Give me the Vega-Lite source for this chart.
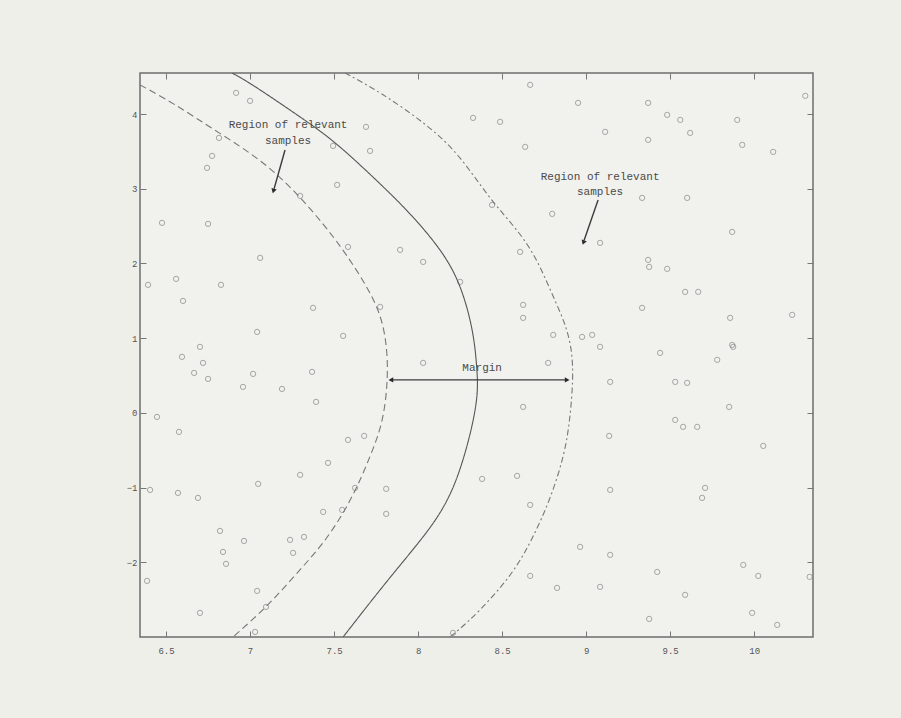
{
  "$schema": "https://vega.github.io/schema/vega-lite/v6.json",
  "width": 673,
  "height": 564,
  "autosize": {"type": "none"},
  "padding": {"left": 140, "top": 73, "right": 88, "bottom": 81},
  "background": "#efefea",
  "config": {
    "view": {"stroke": "#6e6e6e", "strokeWidth": 1.5, "fill": "#f1f1ed"},
    "axis": {"grid": false, "domain": false, "tickColor": "#777777", "tickSize": -6, "tickWidth": 1,
             "labelFont": "Liberation Mono", "labelFontSize": 9, "labelColor": "#555555", "title": null}
  },
  "datasets": {
    "pts": [
      {"x":6.917,"y":4.284},{"x":7.0,"y":4.177},{"x":6.815,"y":3.681},{"x":6.774,"y":3.44},{"x":6.744,"y":3.28},
      {"x":6.476,"y":2.544},{"x":6.75,"y":2.53},{"x":7.06,"y":2.075},{"x":6.393,"y":1.714},{"x":6.56,"y":1.794},
      {"x":6.601,"y":1.499},{"x":6.827,"y":1.714},{"x":7.375,"y":1.406},{"x":7.042,"y":1.084},{"x":7.554,"y":1.031},
      {"x":6.702,"y":0.884},{"x":7.298,"y":2.905},{"x":7.583,"y":2.222},{"x":7.518,"y":3.052},{"x":7.69,"y":3.829},
      {"x":7.494,"y":3.574},{"x":7.714,"y":3.507},{"x":7.893,"y":2.182},{"x":8.03,"y":2.021},{"x":7.774,"y":1.419},
      {"x":8.667,"y":4.391},{"x":8.952,"y":4.15},{"x":9.369,"y":4.15},{"x":9.482,"y":3.989},{"x":9.56,"y":3.922},
      {"x":9.899,"y":3.922},{"x":10.304,"y":4.244},{"x":8.327,"y":3.949},{"x":8.488,"y":3.896},{"x":9.113,"y":3.762},
      {"x":9.369,"y":3.655},{"x":9.619,"y":3.748},{"x":9.929,"y":3.588},{"x":10.113,"y":3.494},{"x":8.637,"y":3.561},
      {"x":8.44,"y":2.784},{"x":8.798,"y":2.664},{"x":9.333,"y":2.878},{"x":9.601,"y":2.878},{"x":9.083,"y":2.276},
      {"x":9.869,"y":2.423},{"x":8.607,"y":2.155},{"x":9.369,"y":2.048},{"x":9.375,"y":1.954},{"x":9.482,"y":1.928},
      {"x":9.589,"y":1.62},{"x":9.667,"y":1.62},{"x":8.25,"y":1.754},{"x":8.625,"y":1.446},{"x":8.625,"y":1.272},
      {"x":9.333,"y":1.406},{"x":9.857,"y":1.272},{"x":10.226,"y":1.312},{"x":8.804,"y":1.044},{"x":8.976,"y":1.017},
      {"x":9.036,"y":1.044},{"x":9.083,"y":0.884},{"x":9.869,"y":0.91},{"x":6.595,"y":0.75},{"x":6.72,"y":0.669},
      {"x":6.667,"y":0.535},{"x":6.75,"y":0.455},{"x":7.018,"y":0.522},{"x":6.958,"y":0.348},{"x":7.19,"y":0.321},
      {"x":7.369,"y":0.549},{"x":7.393,"y":0.147},{"x":8.03,"y":0.669},{"x":6.446,"y":-0.054},{"x":6.577,"y":-0.254},
      {"x":7.583,"y":-0.361},{"x":7.679,"y":-0.308},{"x":7.464,"y":-0.669},{"x":7.298,"y":-0.83},{"x":7.048,"y":-0.95},
      {"x":7.625,"y":-1.004},{"x":7.81,"y":-1.017},{"x":6.405,"y":-1.031},{"x":6.571,"y":-1.071},{"x":6.69,"y":-1.138},
      {"x":7.435,"y":-1.325},{"x":7.548,"y":-1.299},{"x":7.81,"y":-1.352},{"x":6.821,"y":-1.58},{"x":6.964,"y":-1.714},
      {"x":7.238,"y":-1.7},{"x":7.321,"y":-1.66},{"x":6.839,"y":-1.861},{"x":6.857,"y":-2.021},{"x":7.256,"y":-1.874},
      {"x":6.387,"y":-2.249},{"x":7.042,"y":-2.383},{"x":7.095,"y":-2.597},{"x":6.702,"y":-2.677},{"x":7.03,"y":-2.932},
      {"x":9.44,"y":0.803},{"x":9.78,"y":0.71},{"x":9.875,"y":0.884},{"x":8.774,"y":0.669},{"x":9.143,"y":0.415},
      {"x":9.53,"y":0.415},{"x":9.601,"y":0.402},{"x":8.625,"y":0.08},{"x":9.851,"y":0.08},{"x":9.53,"y":-0.094},
      {"x":9.577,"y":-0.187},{"x":9.661,"y":-0.187},{"x":9.137,"y":-0.308},{"x":10.054,"y":-0.442},{"x":8.381,"y":-0.884},
      {"x":8.589,"y":-0.843},{"x":9.143,"y":-1.031},{"x":9.708,"y":-1.004},{"x":9.69,"y":-1.138},{"x":8.667,"y":-1.232},
      {"x":8.964,"y":-1.794},{"x":9.143,"y":-1.901},{"x":9.423,"y":-2.129},{"x":9.935,"y":-2.035},{"x":10.024,"y":-2.182},
      {"x":8.667,"y":-2.182},{"x":8.827,"y":-2.343},{"x":9.083,"y":-2.329},{"x":9.589,"y":-2.436},{"x":9.375,"y":-2.758},
      {"x":9.988,"y":-2.677},{"x":10.137,"y":-2.838},{"x":10.33,"y":-2.195},{"x":8.208,"y":-2.945}
    ],
    "curves": [
      {"c":"boundary","o":1,"x":6.893,"y":4.55},{"c":"boundary","o":2,"x":7.0,"y":4.418},{"c":"boundary","o":3,"x":7.298,"y":3.963},
      {"c":"boundary","o":4,"x":7.494,"y":3.655},{"c":"boundary","o":5,"x":7.732,"y":3.159},{"c":"boundary","o":6,"x":7.935,"y":2.718},
      {"c":"boundary","o":7,"x":8.131,"y":2.209},{"c":"boundary","o":8,"x":8.25,"y":1.754},{"c":"boundary","o":9,"x":8.33,"y":1.1},
      {"c":"boundary","o":10,"x":8.35,"y":0.6},{"c":"boundary","o":11,"x":8.357,"y":0.308},{"c":"boundary","o":12,"x":8.333,"y":-0.094},
      {"c":"boundary","o":13,"x":8.25,"y":-0.803},{"c":"boundary","o":14,"x":8.131,"y":-1.406},{"c":"boundary","o":15,"x":7.851,"y":-2.142},
      {"c":"boundary","o":16,"x":7.554,"y":-2.999},
      {"c":"left","o":1,"x":6.345,"y":4.391},{"c":"left","o":2,"x":6.542,"y":4.15},{"c":"left","o":3,"x":6.804,"y":3.762},
      {"c":"left","o":4,"x":7.137,"y":3.293},{"c":"left","o":5,"x":7.458,"y":2.49},{"c":"left","o":6,"x":7.637,"y":1.914},
      {"c":"left","o":7,"x":7.774,"y":1.379},{"c":"left","o":8,"x":7.815,"y":0.91},{"c":"left","o":9,"x":7.821,"y":0.442},
      {"c":"left","o":10,"x":7.792,"y":-0.134},{"c":"left","o":11,"x":7.714,"y":-0.589},{"c":"left","o":12,"x":7.613,"y":-1.124},
      {"c":"left","o":13,"x":7.458,"y":-1.7},{"c":"left","o":14,"x":7.28,"y":-2.142},{"c":"left","o":15,"x":7.101,"y":-2.597},
      {"c":"left","o":16,"x":6.899,"y":-2.999},
      {"c":"right","o":1,"x":7.565,"y":4.55},{"c":"right","o":2,"x":7.774,"y":4.297},{"c":"right","o":3,"x":8.06,"y":3.85},
      {"c":"right","o":4,"x":8.25,"y":3.45},{"c":"right","o":5,"x":8.44,"y":2.811},{"c":"right","o":6,"x":8.667,"y":2.276},
      {"c":"right","o":7,"x":8.804,"y":1.553},{"c":"right","o":8,"x":8.875,"y":1.205},{"c":"right","o":9,"x":8.917,"y":0.843},
      {"c":"right","o":10,"x":8.923,"y":0.442},{"c":"right","o":11,"x":8.905,"y":-0.054},{"c":"right","o":12,"x":8.875,"y":-0.535},
      {"c":"right","o":13,"x":8.786,"y":-1.165},{"c":"right","o":14,"x":8.685,"y":-1.66},{"c":"right","o":15,"x":8.589,"y":-2.062},
      {"c":"right","o":16,"x":8.446,"y":-2.463},{"c":"right","o":17,"x":8.292,"y":-2.811},{"c":"right","o":18,"x":8.19,"y":-2.999}
    ],
    "arrows": [
      {"x":7.835,"y":0.442,"x2":8.89,"y2":0.442},
      {"x":7.208,"y":3.52,"x2":7.143,"y2":3.0},
      {"x":9.071,"y":2.85,"x2":8.988,"y2":2.31}
    ],
    "heads": [
      {"x":7.838,"y":0.442,"a":90},
      {"x":8.887,"y":0.442,"a":270},
      {"x":7.139,"y":2.97,"a":16},
      {"x":8.984,"y":2.28,"a":19}
    ],
    "labels": [
      {"x":7.226,"y":3.855,"t":"Region of relevant"},
      {"x":7.226,"y":3.641,"t":"samples"},
      {"x":9.083,"y":3.163,"t":"Region of relevant"},
      {"x":9.083,"y":2.963,"t":"samples"},
      {"x":8.381,"y":0.6,"t":"Margin"}
    ]
  },
  "layer": [
    {
      "data": {"name": "pts"},
      "mark": {"type": "point", "shape": "circle", "filled": false, "size": 28, "stroke": "#858585", "strokeWidth": 1},
      "encoding": {
        "x": {"field": "x", "type": "quantitative", "scale": {"domain": [6.345, 10.35], "nice": false, "zero": false},
              "axis": {"orient": "bottom", "values": [6.5,7,7.5,8,8.5,9,9.5,10], "format": "~g", "labelPadding": 15}},
        "y": {"field": "y", "type": "quantitative", "scale": {"domain": [-3.0, 4.55], "nice": false, "zero": false},
              "axis": {"orient": "left", "values": [-2,-1,0,1,2,3,4], "format": "~g", "labelPadding": 9}}
      }
    },
    {
      "data": {"name": "curves"},
      "mark": {"type": "line", "strokeWidth": 1.1, "clip": true, "interpolate": "basis"},
      "encoding": {
        "x": {"field": "x", "type": "quantitative",
              "axis": {"orient": "top", "values": [6.5,7,7.5,8,8.5,9,9.5,10], "labels": false}},
        "y": {"field": "y", "type": "quantitative",
              "axis": {"orient": "right", "values": [-2,-1,0,1,2,3,4], "labels": false}},
        "detail": {"field": "c"},
        "order": {"field": "o", "type": "quantitative"},
        "color": {"field": "c", "type": "nominal", "scale": {"domain": ["boundary","left","right"], "range": ["#555555","#777777","#777777"]}, "legend": null},
        "strokeDash": {"field": "c", "type": "nominal", "scale": {"domain": ["boundary","left","right"], "range": [[1,0],[7,4],[6,3,2,3]]}, "legend": null}
      }
    },
    {
      "data": {"name": "arrows"},
      "mark": {"type": "rule", "color": "#3c3c3c", "strokeWidth": 1.4},
      "encoding": {
        "x": {"field": "x", "type": "quantitative", "axis": null},
        "y": {"field": "y", "type": "quantitative", "axis": null},
        "x2": {"field": "x2"},
        "y2": {"field": "y2"}
      }
    },
    {
      "data": {"name": "heads"},
      "mark": {"type": "point", "shape": "triangle-down", "filled": true, "size": 30, "color": "#2a2a2a", "opacity": 1},
      "encoding": {
        "x": {"field": "x", "type": "quantitative", "axis": null},
        "y": {"field": "y", "type": "quantitative", "axis": null},
        "angle": {"field": "a", "type": "quantitative", "scale": null}
      }
    },
    {
      "data": {"name": "labels"},
      "mark": {"type": "text", "font": "Liberation Mono", "fontSize": 11, "color": "#4a4a4a", "align": "center", "baseline": "middle"},
      "encoding": {
        "x": {"field": "x", "type": "quantitative", "axis": null},
        "y": {"field": "y", "type": "quantitative", "axis": null},
        "text": {"field": "t"}
      }
    }
  ],
  "resolve": {"axis": {"x": "independent", "y": "independent"}}
}
